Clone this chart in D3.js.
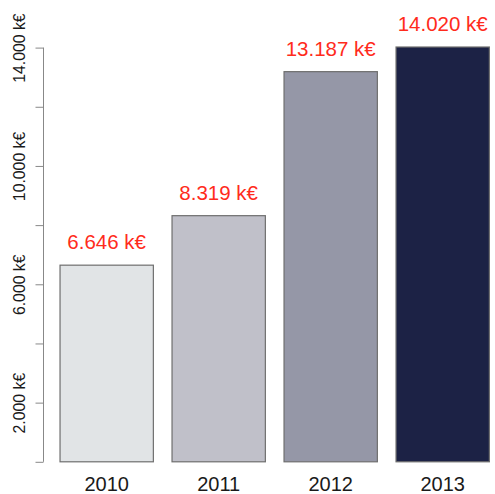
<!DOCTYPE html>
<html><head><meta charset="utf-8">
<script src="https://cdn.jsdelivr.net/npm/d3@7"></script>
<style>body{margin:0;background:#fff}svg{display:block}</style>
</head><body>
<script>
const years = ["2010","2011","2012","2013"];
const values = [6646, 8319, 13187, 14020];
const valueLabels = ["6.646 k€","8.319 k€","13.187 k€","14.020 k€"];
const barColors = ["#e1e4e6","#c0c0c9","#9597a7","#1c2245"];
const tickValues = [0,2000,4000,6000,8000,10000,12000,14000];
const tickLabels = {2000:"2.000 k€",6000:"6.000 k€",10000:"10.000 k€",14000:"14.000 k€"};

const W=495,H=494;
const svg=d3.select("body").append("svg").attr("width",W).attr("height",H);
const y=d3.scaleLinear().domain([0,14000]).range([461.8,47.6]);
const x=d3.scaleBand().domain(years).range([50.7,498.7]).paddingInner(0.1667).paddingOuter(0.1667*0.5);

svg.selectAll("rect.bar").data(values).join("rect")
  .attr("x",(d,i)=>x(years[i])).attr("width",x.bandwidth())
  .attr("y",d=>y(d)).attr("height",d=>y(0)-y(d))
  .attr("fill",(d,i)=>barColors[i]).attr("stroke","#6e6e6e").attr("stroke-width",1.2);

svg.selectAll("text.val").data(values).join("text")
  .attr("x",(d,i)=>x(years[i])+x.bandwidth()/2).attr("y",d=>y(d)-16)
  .attr("text-anchor","middle").attr("font-family","Liberation Sans, Arial, sans-serif")
  .attr("font-size",20.5).attr("fill","#ff2b1c").text((d,i)=>valueLabels[i]);

svg.selectAll("text.yr").data(years).join("text")
  .attr("x",d=>x(d)+x.bandwidth()/2).attr("y",491)
  .attr("text-anchor","middle").attr("font-family","Liberation Sans, Arial, sans-serif")
  .attr("font-size",20).attr("fill","#1a1a1a").text(d=>d);

const axis=d3.axisLeft(y).tickValues(tickValues).tickSize(8).tickFormat(d=>tickLabels[d]||"");
const g=svg.append("g").attr("transform","translate(43.5,0)").call(axis);
g.select(".domain").attr("stroke","#888").attr("d",`M0,${y(0)}V${y(14000)}`);
g.selectAll(".tick line").attr("stroke","#888");
g.selectAll(".tick text").each(function(){
  d3.select(this).attr("x",null).attr("dy",null).attr("text-anchor","middle")
   .attr("font-family","Liberation Sans, Arial, sans-serif")
   .attr("font-size",15.8).attr("fill","#1a1a1a")
   .attr("transform","translate(-18.5,0) rotate(-90)");
});
</script>
</body></html>
